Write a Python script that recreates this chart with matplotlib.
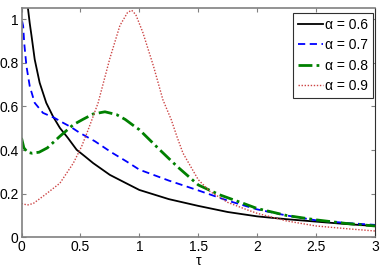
import numpy as np
import matplotlib
matplotlib.use("Agg")
import matplotlib.pyplot as plt

plt.rcParams['font.family'] = ['Liberation Sans', 'DejaVu Sans']

labels = ["α = 0.6", "α = 0.7", "α = 0.8", "α = 0.9"]

tau_a6 = [0.05, 0.07, 0.085, 0.112, 0.154, 0.21, 0.267, 0.326, 0.394, 0.468, 0.54, 0.608,
          0.75, 0.88, 1.0, 1.25, 1.5, 1.75, 2.0, 2.25, 2.5, 2.75, 3.0]
val_a6 = [1.07, 0.98, 0.923, 0.815, 0.708, 0.616, 0.554, 0.501, 0.455, 0.401, 0.37, 0.34,
          0.286, 0.25, 0.217, 0.175, 0.144, 0.116, 0.096, 0.083, 0.072, 0.061, 0.052]

tau_a7 = [0.005, 0.014, 0.023, 0.042, 0.07, 0.112, 0.182, 0.28, 0.355, 0.42, 0.496, 0.623,
          0.764, 0.89, 1.0, 1.25, 1.5, 1.75, 2.0, 2.25, 2.5, 2.75, 3.0]
val_a7 = [0.99, 0.968, 0.89, 0.784, 0.692, 0.616, 0.57, 0.547, 0.524, 0.505, 0.478, 0.44,
          0.389, 0.348, 0.31, 0.26, 0.215, 0.168, 0.128, 0.1, 0.078, 0.066, 0.057]

tau_a8 = [0.0, 0.02, 0.05, 0.09, 0.15, 0.22, 0.27, 0.326, 0.44, 0.52, 0.608, 0.708, 0.807,
          0.88, 0.96, 1.0, 1.175, 1.32, 1.5, 1.68, 1.88, 2.0, 2.25, 2.5, 2.75, 3.0]
val_a8 = [0.455, 0.41, 0.39, 0.385, 0.39, 0.41, 0.435, 0.463, 0.516, 0.54, 0.565, 0.575, 0.562,
          0.54, 0.508, 0.493, 0.40, 0.325, 0.24, 0.195, 0.156, 0.132, 0.1, 0.08, 0.064, 0.052]

tau_a9 = [0.0, 0.05, 0.1, 0.2, 0.326, 0.44, 0.51, 0.566, 0.608, 0.65, 0.75, 0.835, 0.9, 0.935,
          0.97, 1.03, 1.12, 1.2, 1.27, 1.32, 1.37, 1.5, 1.6, 1.75, 1.92, 2.0, 2.25, 2.5, 2.75, 3.0]
val_a9 = [0.155, 0.148, 0.155, 0.195, 0.248, 0.34, 0.416, 0.493, 0.554, 0.616, 0.82, 0.97, 1.03, 1.04,
          1.02, 0.938, 0.784, 0.63, 0.54, 0.46, 0.386, 0.264, 0.21, 0.16, 0.125, 0.11, 0.075, 0.052, 0.04, 0.029]

xticks = [0, 0.5, 1, 1.5, 2, 2.5, 3]
xticklabels = ["0", "0.5", "1", "1.5", "2", "2.5", "3"]
yticks = [0, 0.2, 0.4, 0.6, 0.8, 1]
yticklabels = ["0", "0.2", "0.4", "0.6", "0.8", "1"]

fig = plt.figure(figsize=(3.82, 2.70), dpi=100)
ax = fig.add_axes([0.0563, 0.121, 0.9254, 0.849])

ax.plot(tau_a6, val_a6, color='black', lw=1.3, ls='-', label=labels[0])
ax.plot(tau_a7, val_a7, color='#0000ff', lw=1.3, ls=(0, (4, 2.5)), label=labels[1])
ax.plot(tau_a8, val_a8, color='#008000', lw=2.0, ls=(0, (5, 1.5, 1, 1.5)), label=labels[2])
ax.plot(tau_a9, val_a9, color='#cc4444', lw=1.0, ls=(0, (1, 1.2)), label=labels[3])

ax.set_xlim(0, 3)
ax.set_ylim(0, 1.05)
ax.set_xticks(xticks)
ax.set_xticklabels(xticklabels)
ax.set_yticks(yticks)
ax.set_yticklabels(yticklabels)
ax.tick_params(direction='in', length=3, width=0.8, color='#808080', labelsize=10,
               top=True, right=True, pad=2)
for s in ax.spines.values():
    s.set_color('#808080')
    s.set_linewidth(1.2)
ax.spines['right'].set_color('#303030')
ax.spines['right'].set_linewidth(0.8)

ax.set_xlabel("τ", fontsize=10, labelpad=0)

leg = ax.legend(loc='upper right', bbox_to_anchor=(0.9945, 0.978), fontsize=10, frameon=True,
                fancybox=False, edgecolor='#303030', framealpha=1, handlelength=1.8,
                handletextpad=0.15, borderpad=0.35, labelspacing=0.45, borderaxespad=0.0)
leg.get_frame().set_linewidth(0.8)

fig.savefig("out.png", dpi=100)
